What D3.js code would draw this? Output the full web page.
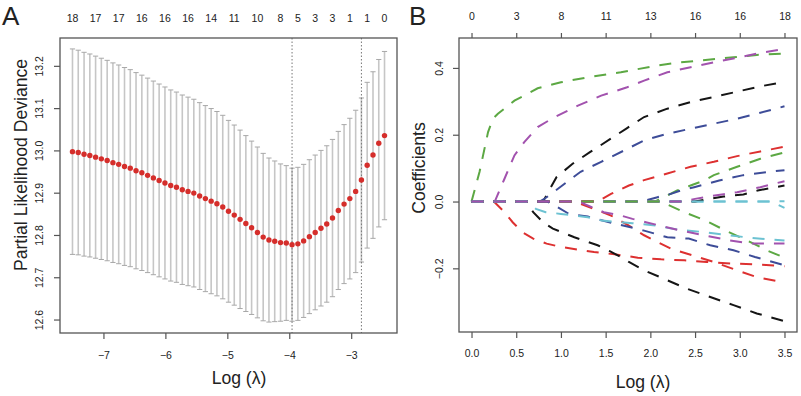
<!DOCTYPE html>
<html>
<head>
<meta charset="utf-8">
<script src="https://cdn.jsdelivr.net/npm/d3@7/dist/d3.min.js"></script>
<style>
    body { margin: 0; background: #fff; }
    svg { display: block; font-family: "Liberation Sans", Arial, sans-serif; }
    text { fill: #222; }
</style>
</head>
<body>
<svg id="chart" width="801" height="396"></svg>
<script>
// ---- Panel A : cross-validation curve ----
const logLambda = [-7.500, -7.407, -7.313, -7.220, -7.127, -7.034, -6.940, -6.847, -6.754, -6.660,
                   -6.567, -6.474, -6.380, -6.287, -6.194, -6.101, -6.007, -5.914, -5.821, -5.727,
                   -5.634, -5.541, -5.447, -5.354, -5.261, -5.168, -5.074, -4.981, -4.888, -4.794,
                   -4.701, -4.608, -4.514, -4.421, -4.328, -4.235, -4.141, -4.048, -3.955, -3.861,
                   -3.768, -3.675, -3.581, -3.488, -3.395, -3.302, -3.208, -3.115, -3.022, -2.928,
                   -2.835, -2.742, -2.648, -2.555, -2.462];
const cvMean = [12.997, 12.995, 12.991, 12.988, 12.984, 12.980, 12.976, 12.971, 12.967, 12.962,
                12.958, 12.952, 12.947, 12.941, 12.935, 12.929, 12.923, 12.917, 12.913, 12.907,
                12.903, 12.899, 12.892, 12.886, 12.880, 12.874, 12.866, 12.856, 12.847, 12.837,
                12.827, 12.817, 12.806, 12.795, 12.788, 12.785, 12.782, 12.781, 12.777, 12.779,
                12.786, 12.796, 12.806, 12.816, 12.826, 12.840, 12.858, 12.873, 12.886, 12.903,
                12.930, 12.965, 12.989, 13.017, 13.035];
const cvSd = [0.243, 0.242, 0.241, 0.240, 0.239, 0.238, 0.237, 0.236, 0.235, 0.234,
              0.233, 0.232, 0.231, 0.230, 0.229, 0.228, 0.227, 0.226, 0.225, 0.224,
              0.223, 0.222, 0.221, 0.220, 0.219, 0.218, 0.217, 0.215, 0.213, 0.211,
              0.208, 0.205, 0.202, 0.198, 0.194, 0.190, 0.186, 0.183, 0.181, 0.181,
              0.181, 0.182, 0.183, 0.184, 0.185, 0.186, 0.187, 0.188, 0.190, 0.192,
              0.194, 0.196, 0.197, 0.198, 0.199];
const lambdaMarks = [38, 50];      // lambda.min, lambda.1se (index into logLambda)
const dfIndexA = [0, 4, 8, 12, 16, 20, 24, 28, 32, 36, 39, 42, 45, 48, 51, 54];
const dfLabelsA = ['18', '17', '17', '16', '16', '16', '14', '11', '10', '8', '5', '3', '3', '1', '1', '0'];
const xTicksA = [-7, -6, -5, -4, -3];
const yTicksA = [12.6, 12.7, 12.8, 12.9, 13.0, 13.1, 13.2];

// ---- Panel B : coefficient paths ----
const xTicksB = [0, 0.5, 1, 1.5, 2, 2.5, 3, 3.5];
const dfLabelsB = ['0', '3', '8', '11', '13', '16', '16', '18'];
const yTicksB = [-0.2, 0, 0.2, 0.4];
// one path per variable, [x, coefficient] knots, in column order
const coefPaths = [
    [[0, 0], [0.80, 0], [0.95, 0.073], [1.13, 0.113], [1.32, 0.147], [1.58, 0.192], [1.74, 0.22], [1.93, 0.253], [2.19, 0.278], [2.45, 0.298], [2.71, 0.313], [2.97, 0.329], [3.23, 0.345], [3.5, 0.358]],
    [[0, 0], [0.25, 0], [0.37, -0.032], [0.46, -0.062], [0.57, -0.092], [0.69, -0.111], [0.84, -0.126], [1.0, -0.136], [1.19, -0.144], [1.37, -0.151], [1.6, -0.158], [1.86, -0.168], [2.12, -0.173], [2.38, -0.176], [2.63, -0.181], [2.93, -0.186], [3.19, -0.188], [3.5, -0.194]],
    [[0, 0], [0.09, 0.089], [0.185, 0.208], [0.24, 0.248], [0.295, 0.263], [0.48, 0.302], [0.74, 0.339], [1.0, 0.357], [1.3, 0.372], [1.67, 0.387], [2.07, 0.407], [2.34, 0.417], [2.67, 0.425], [2.93, 0.432], [3.19, 0.439], [3.5, 0.443]],
    [[0, 0], [0.76, 0], [0.82, 0.009], [1.22, 0.089], [1.45, 0.119], [1.7, 0.152], [1.93, 0.183], [2.19, 0.203], [2.45, 0.218], [2.71, 0.233], [2.97, 0.248], [3.23, 0.266], [3.5, 0.285]],
    [[0, 0], [3.3, 0], [3.5, 0.001]],
    [[0, 0], [0.26, 0], [0.37, 0.069], [0.48, 0.138], [0.59, 0.178], [0.74, 0.223], [0.93, 0.253], [1.19, 0.287], [1.45, 0.317], [1.74, 0.342], [1.93, 0.362], [2.19, 0.387], [2.45, 0.402], [2.71, 0.417], [2.97, 0.43], [3.23, 0.445], [3.5, 0.457]],
    [[0, 0], [2.5, 0], [2.67, 0.008], [2.82, 0.015], [3.04, 0.021], [3.2, 0.033], [3.5, 0.048]],
    [[0, 0], [1.15, 0], [1.37, -0.022], [1.56, -0.042], [1.76, -0.072], [1.93, -0.101], [2.23, -0.141], [2.47, -0.161], [2.71, -0.181], [2.97, -0.206], [3.21, -0.228], [3.5, -0.242]],
    [[0, 0], [2.05, 0], [2.15, 0.013], [2.3, 0.033], [2.45, 0.048], [2.6, 0.063], [2.71, 0.079], [2.97, 0.104], [3.23, 0.128], [3.5, 0.147]],
    [[0, 0], [1.9, 0], [2.08, 0.013], [2.23, 0.023], [2.34, 0.033], [2.49, 0.043], [2.77, 0.063], [3.04, 0.079], [3.3, 0.088], [3.5, 0.094]],
    [[0, 0], [3.35, 0], [3.5, -0.019]],
    [[0, 0], [2.35, 0], [2.5, 0.008], [2.67, 0.016], [2.82, 0.022], [2.97, 0.028], [3.23, 0.043], [3.5, 0.061]],
    [[0, 0], [0.62, 0], [0.69, -0.032], [0.8, -0.062], [0.91, -0.081], [1.04, -0.095], [1.15, -0.107], [1.28, -0.119], [1.41, -0.131], [1.54, -0.148], [1.67, -0.166], [1.76, -0.181], [1.93, -0.206], [2.15, -0.231], [2.41, -0.261], [2.67, -0.286], [2.93, -0.31], [3.19, -0.335], [3.5, -0.358]],
    [[0, 0], [1.41, 0], [1.56, 0.023], [1.76, 0.048], [1.93, 0.064], [2.19, 0.084], [2.45, 0.104], [2.71, 0.119], [2.97, 0.136], [3.23, 0.15], [3.5, 0.164]],
    [[0, 0], [2.12, 0], [2.38, -0.032], [2.62, -0.057], [2.84, -0.087], [3.08, -0.116], [3.3, -0.146], [3.5, -0.168]],
    [[0, 0], [0.85, 0], [0.93, -0.012], [1.09, -0.037], [1.3, -0.045], [1.54, -0.062], [1.93, -0.087], [2.19, -0.107], [2.43, -0.111], [2.67, -0.131], [2.93, -0.146], [3.17, -0.166], [3.5, -0.191]],
    [[0, 0], [0.62, 0], [0.72, -0.022], [0.83, -0.032], [1.0, -0.037], [1.3, -0.047], [1.46, -0.057], [1.8, -0.065], [2.06, -0.072], [2.3, -0.084], [2.58, -0.091], [2.85, -0.1], [3.1, -0.108], [3.5, -0.117]],
    [[0, 0], [1.2, 0], [1.48, -0.032], [1.67, -0.042], [1.8, -0.052], [1.95, -0.062], [2.34, -0.087], [2.6, -0.101], [2.88, -0.116], [3.14, -0.126], [3.5, -0.126]]
];

// Constants
const PALETTE = ['#151515', '#dd3030', '#5ca843', '#3d4c98', '#6cc2d2', '#a252ae'];
const BOX_A = { left: 60, right: 397, top: 38, bottom: 333 };
const BOX_B = { left: 459, right: 797, top: 38, bottom: 332 };
const FONT_TICK = 10.5;
const FONT_TITLE = 17.6;
const AXIS_COLOR = '#555';

// R style 4% axis padding
const pad = (ext) => [ext[0] - 0.04 * (ext[1] - ext[0]), ext[1] + 0.04 * (ext[1] - ext[0])];

const svg = d3.select('#chart');

function frame(box) {
    svg.append('rect')
        .attr('x', box.left).attr('y', box.top)
        .attr('width', box.right - box.left).attr('height', box.bottom - box.top)
        .attr('fill', 'none').attr('stroke', AXIS_COLOR).attr('stroke-width', 1.3);
}

function bottomAxis(box, x, ticks, fmt, baseline) {
    const g = svg.append('g')
        .attr('transform', 'translate(0,' + box.bottom + ')')
        .call(d3.axisBottom(x).tickValues(ticks).tickFormat(fmt).tickSize(6));
    g.select('.domain').remove();
    g.selectAll('.tick line').attr('stroke', AXIS_COLOR).attr('stroke-width', 1.2);
    g.selectAll('.tick text')
        .attr('y', baseline).attr('dy', null)
        .attr('font-size', FONT_TICK).attr('font-family', null).attr('fill', '#333');
    return g;
}

function leftAxis(box, y, ticks, fmt, baseline) {
    const g = svg.append('g')
        .attr('transform', 'translate(' + box.left + ',0)')
        .call(d3.axisLeft(y).tickValues(ticks).tickFormat(fmt).tickSize(6));
    g.select('.domain').remove();
    g.selectAll('.tick line').attr('stroke', AXIS_COLOR).attr('stroke-width', 1.2);
    g.selectAll('.tick text')
        .attr('transform', 'rotate(-90)')
        .attr('x', 0).attr('y', -baseline).attr('dy', null)
        .attr('text-anchor', 'middle')
        .attr('font-size', FONT_TICK).attr('font-family', null).attr('fill', '#333');
    return g;
}

function title(x, y, txt, rotate, size) {
    svg.append('text')
        .attr('transform', 'translate(' + x + ',' + y + ')' + (rotate ? ' rotate(-90)' : ''))
        .attr('text-anchor', 'middle')
        .attr('font-size', size || FONT_TITLE)
        .text(txt);
}

const minus = (s) => s.replace('-', '\u2212');

// ================= Panel A =================
(function () {
    const up = cvMean.map((m, i) => m + cvSd[i]);
    const lo = cvMean.map((m, i) => m - cvSd[i]);
    const x = d3.scaleLinear().domain(pad(d3.extent(logLambda))).range([BOX_A.left, BOX_A.right]);
    const y = d3.scaleLinear().domain(pad([d3.min(lo), d3.max(up)])).range([BOX_A.bottom, BOX_A.top]);

    const rows = logLambda.map((l, i) => ({ l: l, m: cvMean[i], up: up[i], lo: lo[i] }));

    // Error bars
    const bars = svg.append('g').attr('class', 'errbars');
    bars.selectAll('line.v').data(rows).enter().append('line')
        .attr('class', 'v')
        .attr('x1', (d) => x(d.l)).attr('x2', (d) => x(d.l))
        .attr('y1', (d) => y(d.up)).attr('y2', (d) => y(d.lo))
        .attr('stroke', '#c6c6c6').attr('stroke-width', 1.6);
    ['up', 'lo'].forEach((k) => {
        bars.selectAll('line.' + k).data(rows).enter().append('line')
            .attr('class', k)
            .attr('x1', (d) => x(d.l) - 2.6).attr('x2', (d) => x(d.l) + 2.6)
            .attr('y1', (d) => y(d[k])).attr('y2', (d) => y(d[k]))
            .attr('stroke', '#a8a8a8').attr('stroke-width', 1);
    });

    // lambda.min / lambda.1se
    svg.append('g').selectAll('line').data(lambdaMarks).enter().append('line')
        .attr('x1', (i) => x(logLambda[i])).attr('x2', (i) => x(logLambda[i]))
        .attr('y1', BOX_A.top).attr('y2', BOX_A.bottom)
        .attr('stroke', '#777').attr('stroke-width', 1).attr('stroke-dasharray', '1.5,2');

    // Mean points
    svg.append('g').selectAll('circle').data(rows).enter().append('circle')
        .attr('cx', (d) => x(d.l)).attr('cy', (d) => y(d.m))
        .attr('r', 2.7).attr('fill', '#d52e2b');

    frame(BOX_A);
    bottomAxis(BOX_A, x, xTicksA, (d) => minus(String(d)), 26);
    leftAxis(BOX_A, y, yTicksA, d3.format('.1f'), 17);

    // Top: number of nonzero coefficients (no ticks)
    svg.append('g').selectAll('text').data(dfIndexA).enter().append('text')
        .attr('x', (i) => x(logLambda[i])).attr('y', BOX_A.top - 16.5)
        .attr('text-anchor', 'middle').attr('font-size', FONT_TICK).attr('fill', '#333')
        .text((i, k) => dfLabelsA[k]);

    title(239, 384, 'Log (\u03bb)');
    title(27, 165, 'Partial Likelihood Deviance', true);
    svg.append('text').attr('x', 2).attr('y', 25).attr('font-size', 26).text('A');
}());

// ================= Panel B =================
(function () {
    const allX = coefPaths.flat().map((p) => p[0]);
    const allY = coefPaths.flat().map((p) => p[1]);
    const x = d3.scaleLinear().domain(pad(d3.extent(allX))).range([BOX_B.left, BOX_B.right]);
    const y = d3.scaleLinear().domain(pad(d3.extent(allY))).range([BOX_B.bottom, BOX_B.top]);

    const line = d3.line().x((p) => x(p[0])).y((p) => y(p[1]));

    svg.append('g').attr('class', 'paths')
        .selectAll('path').data(coefPaths).enter().append('path')
        .attr('d', line)
        .attr('fill', 'none')
        .attr('stroke', (d, i) => PALETTE[i % 6])
        .attr('stroke-width', 2)
        .attr('stroke-dasharray', '12,10');

    frame(BOX_B);
    bottomAxis(BOX_B, x, xTicksB, d3.format('.1f'), 25);
    leftAxis(BOX_B, y, yTicksB, (d) => minus(d3.format('.1f')(d)), 16);

    // Top axis with df counts
    const top = svg.append('g')
        .attr('transform', 'translate(0,' + BOX_B.top + ')')
        .call(d3.axisTop(x).tickValues(xTicksB).tickFormat((d, i) => dfLabelsB[i]).tickSize(5));
    top.select('.domain').remove();
    top.selectAll('.tick line').attr('stroke', AXIS_COLOR).attr('stroke-width', 1.2);
    top.selectAll('.tick text')
        .attr('y', -18).attr('dy', null)
        .attr('font-size', FONT_TICK).attr('font-family', null).attr('fill', '#333');

    title(643, 388, 'Log (\u03bb)');
    title(425, 168, 'Coefficients', true);
    svg.append('text').attr('x', 409).attr('y', 25).attr('font-size', 26).text('B');
}());
</script>
</body>
</html>
